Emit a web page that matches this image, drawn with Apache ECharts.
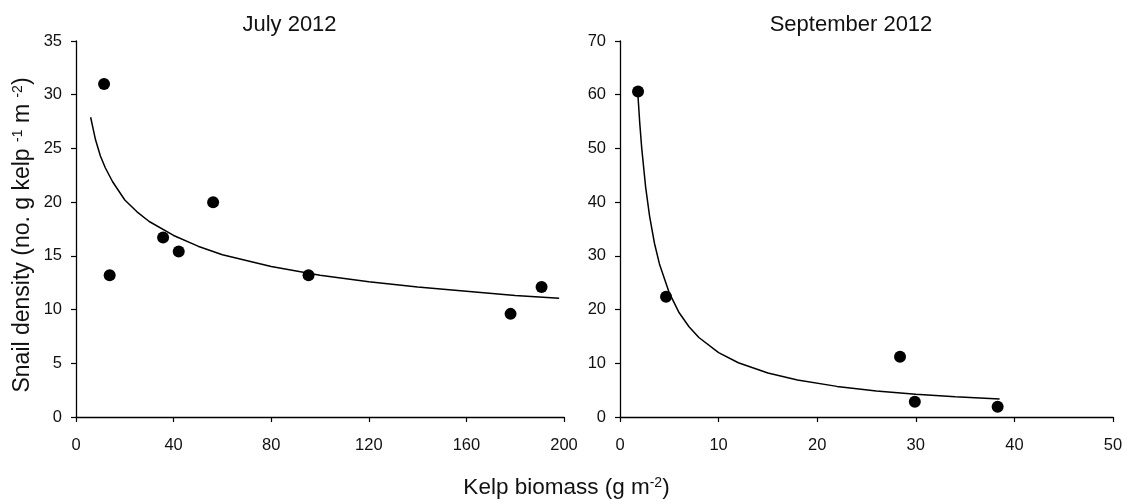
<!DOCTYPE html>
<html>
<head>
<meta charset="utf-8">
<script src="https://cdn.jsdelivr.net/npm/echarts@6/dist/echarts.min.js"></script>
<style>
html,body{margin:0;padding:0;background:#fff;}
#chart{width:1132px;height:504px;}
</style>
</head>
<body>
<div id="chart"></div>
<script>
// Panel titles
var panelTitles = ['July 2012', 'September 2012'];

// July 2012 observations: kelp biomass (g m-2) and snail density
var julyBiomass = [11.5, 13.8, 35.7, 42.1, 56.2, 95.3, 178.1, 190.8];
var julyDensity = [31.0, 13.2, 16.7, 15.4, 20.0, 13.2, 9.6, 12.1];

// July 2012 fitted curve
var julyFitX = [6, 8, 10, 12, 15, 20, 25, 30, 40, 50, 60, 80, 100, 120, 140, 160, 180, 198];
var julyFitY = [27.9, 25.8, 24.3, 23.2, 21.9, 20.2, 19.1, 18.2, 16.9, 15.9, 15.1, 14.0, 13.2, 12.6, 12.1, 11.7, 11.3, 11.05];

// September 2012 observations
var sepBiomass = [1.83, 4.67, 28.4, 29.9, 38.3];
var sepDensity = [60.6, 22.4, 11.2, 2.85, 1.9];

// September 2012 fitted curve
var sepFitX = [1.83, 2.0, 2.2, 2.6, 3, 3.5, 4, 5, 6, 7, 8, 10, 12, 15, 18, 22, 26, 30, 34, 38.5];
var sepFitY = [59.6, 54.8, 50.1, 42.8, 37.4, 32.3, 28.5, 23.1, 19.4, 16.8, 14.8, 12.0, 10.1, 8.2, 6.9, 5.7, 4.85, 4.24, 3.77, 3.35];

// Axis settings
var julyX = {min: 0, max: 200, interval: 40};
var julyY = {min: 0, max: 35, interval: 5};
var sepX = {min: 0, max: 50, interval: 10};
var sepY = {min: 0, max: 70, interval: 10};

function zip(a, b) { return a.map(function (v, i) { return [v, b[i]]; }); }

var FONT = '"Liberation Sans", Arial, sans-serif';
var TXT = '#111';

function axisCommon(extra, margin) {
  return Object.assign({
    type: 'value',
    axisLine: {show: true, onZero: false, lineStyle: {color: '#000', width: 1.3}},
    axisTick: {show: true, inside: false, length: 5, lineStyle: {color: '#000', width: 1.2}},
    splitLine: {show: false},
    axisLabel: {color: TXT, fontSize: 16.5, fontFamily: FONT, margin: margin}
  }, extra);
}

var chart = echarts.init(document.getElementById('chart'), null, {renderer: 'canvas'});

var supStyle = {fontSize: 14, fontFamily: FONT, fill: TXT, verticalAlign: 'top', lineHeight: 22, padding: [0, 0, 8, 0]};

var option = {
  backgroundColor: '#fff',
  animation: false,
  grid: [
    {left: 76, right: 568, top: 41, bottom: 87, containLabel: false},
    {left: 620, right: 19, top: 41, bottom: 87, containLabel: false}
  ],
  xAxis: [
    axisCommon({gridIndex: 0, min: julyX.min, max: julyX.max, interval: julyX.interval}, 20),
    axisCommon({gridIndex: 1, min: sepX.min, max: sepX.max, interval: sepX.interval}, 20)
  ],
  yAxis: [
    axisCommon({gridIndex: 0, min: julyY.min, max: julyY.max, interval: julyY.interval}, 14),
    axisCommon({gridIndex: 1, min: sepY.min, max: sepY.max, interval: sepY.interval}, 14)
  ],
  series: [
    {
      name: 'July fit', type: 'line', xAxisIndex: 0, yAxisIndex: 0,
      data: zip(julyFitX, julyFitY), showSymbol: false, symbol: 'none', smooth: false,
      lineStyle: {color: '#000', width: 1.5}, z: 2, silent: true
    },
    {
      name: 'July', type: 'scatter', xAxisIndex: 0, yAxisIndex: 0,
      data: zip(julyBiomass, julyDensity), symbol: 'circle', symbolSize: 12,
      itemStyle: {color: '#000', opacity: 1}, z: 3
    },
    {
      name: 'September fit', type: 'line', xAxisIndex: 1, yAxisIndex: 1,
      data: zip(sepFitX, sepFitY), showSymbol: false, symbol: 'none', smooth: false,
      lineStyle: {color: '#000', width: 1.5}, z: 2, silent: true
    },
    {
      name: 'September', type: 'scatter', xAxisIndex: 1, yAxisIndex: 1,
      data: zip(sepBiomass, sepDensity), symbol: 'circle', symbolSize: 12,
      itemStyle: {color: '#000', opacity: 1}, z: 3
    }
  ],
  graphic: [
    {
      type: 'text', z: 10,
      style: {text: panelTitles[0], x: 289.5, y: 24.5, fill: TXT, font: '22px ' + FONT,
        align: 'center', verticalAlign: 'middle', textAlign: 'center', textVerticalAlign: 'middle'}
    },
    {
      type: 'text', z: 10,
      style: {text: panelTitles[1], x: 851, y: 24.5, fill: TXT, font: '22px ' + FONT,
        align: 'center', verticalAlign: 'middle', textAlign: 'center', textVerticalAlign: 'middle'}
    },
    {
      type: 'text', z: 10,
      style: {
        text: 'Kelp biomass (g m{sup|-2})',
        x: 566.5, y: 488, fill: TXT, font: '22.5px ' + FONT, fontSize: 22.5, fontFamily: FONT,
        align: 'center', verticalAlign: 'middle', textAlign: 'center', textVerticalAlign: 'middle',
        rich: {sup: supStyle}
      }
    },
    {
      type: 'text', z: 10, x: 22.5, y: 235, rotation: Math.PI / 2,
      style: {
        text: 'Snail density (no. g kelp {sup|-1} m {sup|-2})',
        x: 0, y: 0, fill: TXT, font: '23px ' + FONT, fontSize: 23, fontFamily: FONT,
        align: 'center', verticalAlign: 'middle', textAlign: 'center', textVerticalAlign: 'middle',
        rich: {sup: supStyle}
      }
    }
  ]
};

chart.setOption(option);
</script>
</body>
</html>
